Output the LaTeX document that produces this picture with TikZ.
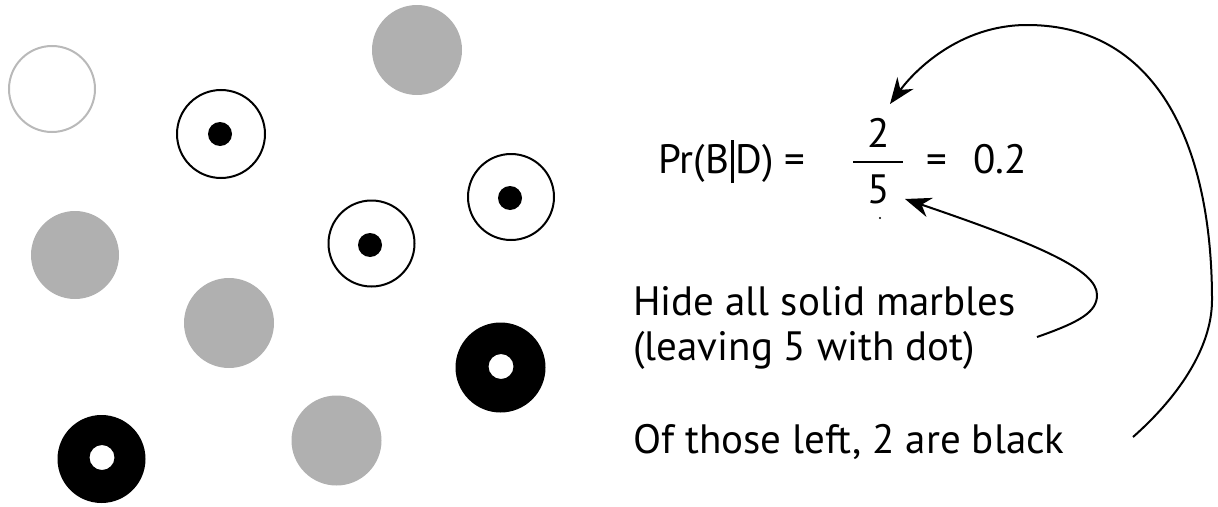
\documentclass[tikz,border=0pt]{standalone}
\usepackage{fontspec}
\setmainfont{PT Sans}
\usetikzlibrary{arrows.meta}
\definecolor{marblegray}{RGB}{176,176,176}
\definecolor{rimgray}{RGB}{185,185,185}
\newcommand{\tallbar}{\kern2pt\raisebox{-10pt}{\rule{2.5pt}{43pt}}\kern2pt}
\begin{document}
\begin{tikzpicture}[x=1pt,y=-1pt,
  solidmarble/.style={fill=marblegray},
  emptymarble/.style={draw=rimgray,line width=2pt},
  dotmarble/.style={draw=black,line width=2pt,fill=white},
  blackmarble/.style={fill=black},
  txt/.style={anchor=base west,inner sep=0pt,font=\fontsize{41}{48}\selectfont},
  frm/.style={inner sep=0pt,font=\fontsize{41}{48}\selectfont},
  pointer/.style={line width=2pt,-{Stealth[length=26pt,width=20pt]}}]
\useasboundingbox (0,0) rectangle (1218,506);
% marbles
\draw[emptymarble] (52,89) circle (43);
\fill[solidmarble] (417,50) circle (45);
\fill[solidmarble] (75,255) circle (44);
\fill[solidmarble] (229,323) circle (45);
\fill[solidmarble] (336.5,440.5) circle (45);
\draw[dotmarble] (221,134) circle (44);
\fill (220,134) circle (12);
\draw[dotmarble] (371.5,243.5) circle (43);
\fill (370,245) circle (12);
\draw[dotmarble] (511,197) circle (43);
\fill (510,198) circle (12);
\fill[blackmarble,even odd rule] (500.5,367.5) circle (45) (501,366.5) circle (12.5);
\fill[blackmarble,even odd rule] (101.5,459) circle (44) (102,457.5) circle (12.5);
% formula
\node[frm,anchor=base west] (pr) at (658,173) {Pr(B\tallbar D) =};
\node[frm,anchor=base] (num) at (879,147) {2};
\node[frm,anchor=base] (den) at (879,203) {5};
\draw[line width=2pt] (853,162) -- (903,162);
\node[frm,anchor=base west] (eq) at (926,173) {=};
\node[frm,anchor=base west] (val) at (973,173) {0.2};
\fill (880,218) circle (1.2);
% captions
\node[txt] (hide) at (633,315) {Hide all solid marbles};
\node[txt] (leave) at (633,360) {(leaving 5 with dot)};
\node[txt] (left) at (633,453) {Of those left, 2 are black};
% arrows
\coordinate (hidestart) at (1037,337);
\coordinate (fivetip) at (905,199);
\coordinate (blackstart) at (1133,437);
\coordinate (twotip) at (890,104);
\draw[pointer] (hidestart) .. controls (1080,322) and (1097,312) .. (1097,295)
  .. controls (1097,270) and (1040,245) .. (fivetip);
\draw[pointer] (blackstart) .. controls (1175,400) and (1212,350) .. (1212,300)
  .. controls (1212,150) and (1160,25) .. (1027,25)
  .. controls (960,25) and (915,70) .. (twotip);
\end{tikzpicture}
\end{document}
